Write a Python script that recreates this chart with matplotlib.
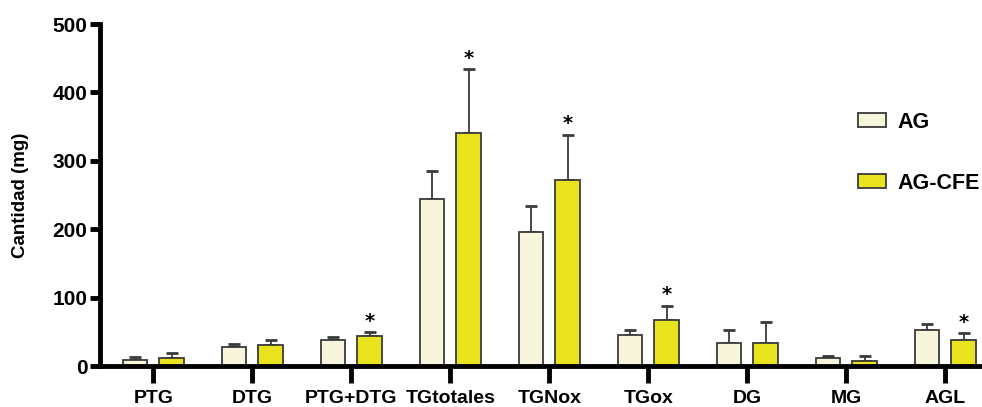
import numpy as np
import matplotlib.pyplot as plt

# datos
categorias = ["PTG", "DTG", "PTG+DTG", "TGtotales", "TGNox", "TGox", "DG", "MG", "AGL"]
ag = [9, 28, 38, 244, 196, 45, 34, 11, 52]
ag_err = [4, 4, 4, 41, 38, 8, 19, 3, 9]
ag_cfe = [12, 31, 44, 340, 272, 67, 34, 8, 38]
ag_cfe_err = [7, 7, 5, 94, 66, 21, 31, 6, 10]
significativo = [False, False, True, True, True, True, False, False, True]

col_ag = "#F7F5DC"
col_cfe = "#E8E31C"
borde = "#3a3a3a"

plt.rcParams['font.family'] = ['Liberation Sans', 'DejaVu Sans']

fig = plt.figure(figsize=(9.82, 4.07), dpi=100)
ax = fig.add_axes([100/982, 1 - 366/407, 1 - 100/982, (366 - 24)/407])

x = np.arange(len(categorias))
w = 0.25
d = 0.185

ax.bar(x - d, ag, w, color=col_ag, edgecolor=borde, linewidth=1.3, label="AG", zorder=2)
ax.bar(x + d, ag_cfe, w, color=col_cfe, edgecolor=borde, linewidth=1.3, label="AG-CFE", zorder=2)

# barras de error (solo hacia arriba)
ax.errorbar(x - d, ag, yerr=[np.zeros(len(ag)), ag_err], fmt="none", ecolor=borde,
            elinewidth=1.3, capsize=4.5, capthick=2, zorder=1)
ax.errorbar(x + d, ag_cfe, yerr=[np.zeros(len(ag_cfe)), ag_cfe_err], fmt="none", ecolor=borde,
            elinewidth=1.3, capsize=4.5, capthick=2, zorder=1)

# asteriscos
for i in range(len(categorias)):
    if significativo[i]:
        ax.annotate("*", (x[i] + d, ag_cfe[i] + ag_cfe_err[i]), xytext=(0, 1),
                    textcoords="offset points", ha="center", va="bottom",
                    fontsize=14, fontweight="bold", family="DejaVu Sans")

ax.set_xlim(-0.538, 8.37)
ax.set_ylim(0, 500)
ax.set_yticks([0, 100, 200, 300, 400, 500])
ax.set_xticks(x)
ax.set_xticklabels(categorias, fontsize=14, fontweight="bold")
ax.tick_params(axis="y", labelsize=15, width=3.5, length=7, pad=2)
ax.tick_params(axis="x", width=3.5, length=12, pad=5)
for lab in ax.get_yticklabels():
    lab.set_fontweight("bold")

ax.spines["top"].set_visible(False)
ax.spines["right"].set_visible(False)
ax.spines["left"].set_linewidth(3.5)
ax.spines["bottom"].set_linewidth(3.5)

ax.set_ylabel("Cantidad (mg)", fontsize=13.5, fontweight="bold")
ax.yaxis.set_label_coords(-0.08, 0.5)

ax.legend(loc="upper left", bbox_to_anchor=(0.837, 0.80), frameon=False,
          prop={"size": 15.5, "weight": "bold"}, handlelength=1.3, handleheight=0.65,
          labelspacing=1.85, handletextpad=0.55)

plt.savefig("out.png", dpi=100)
